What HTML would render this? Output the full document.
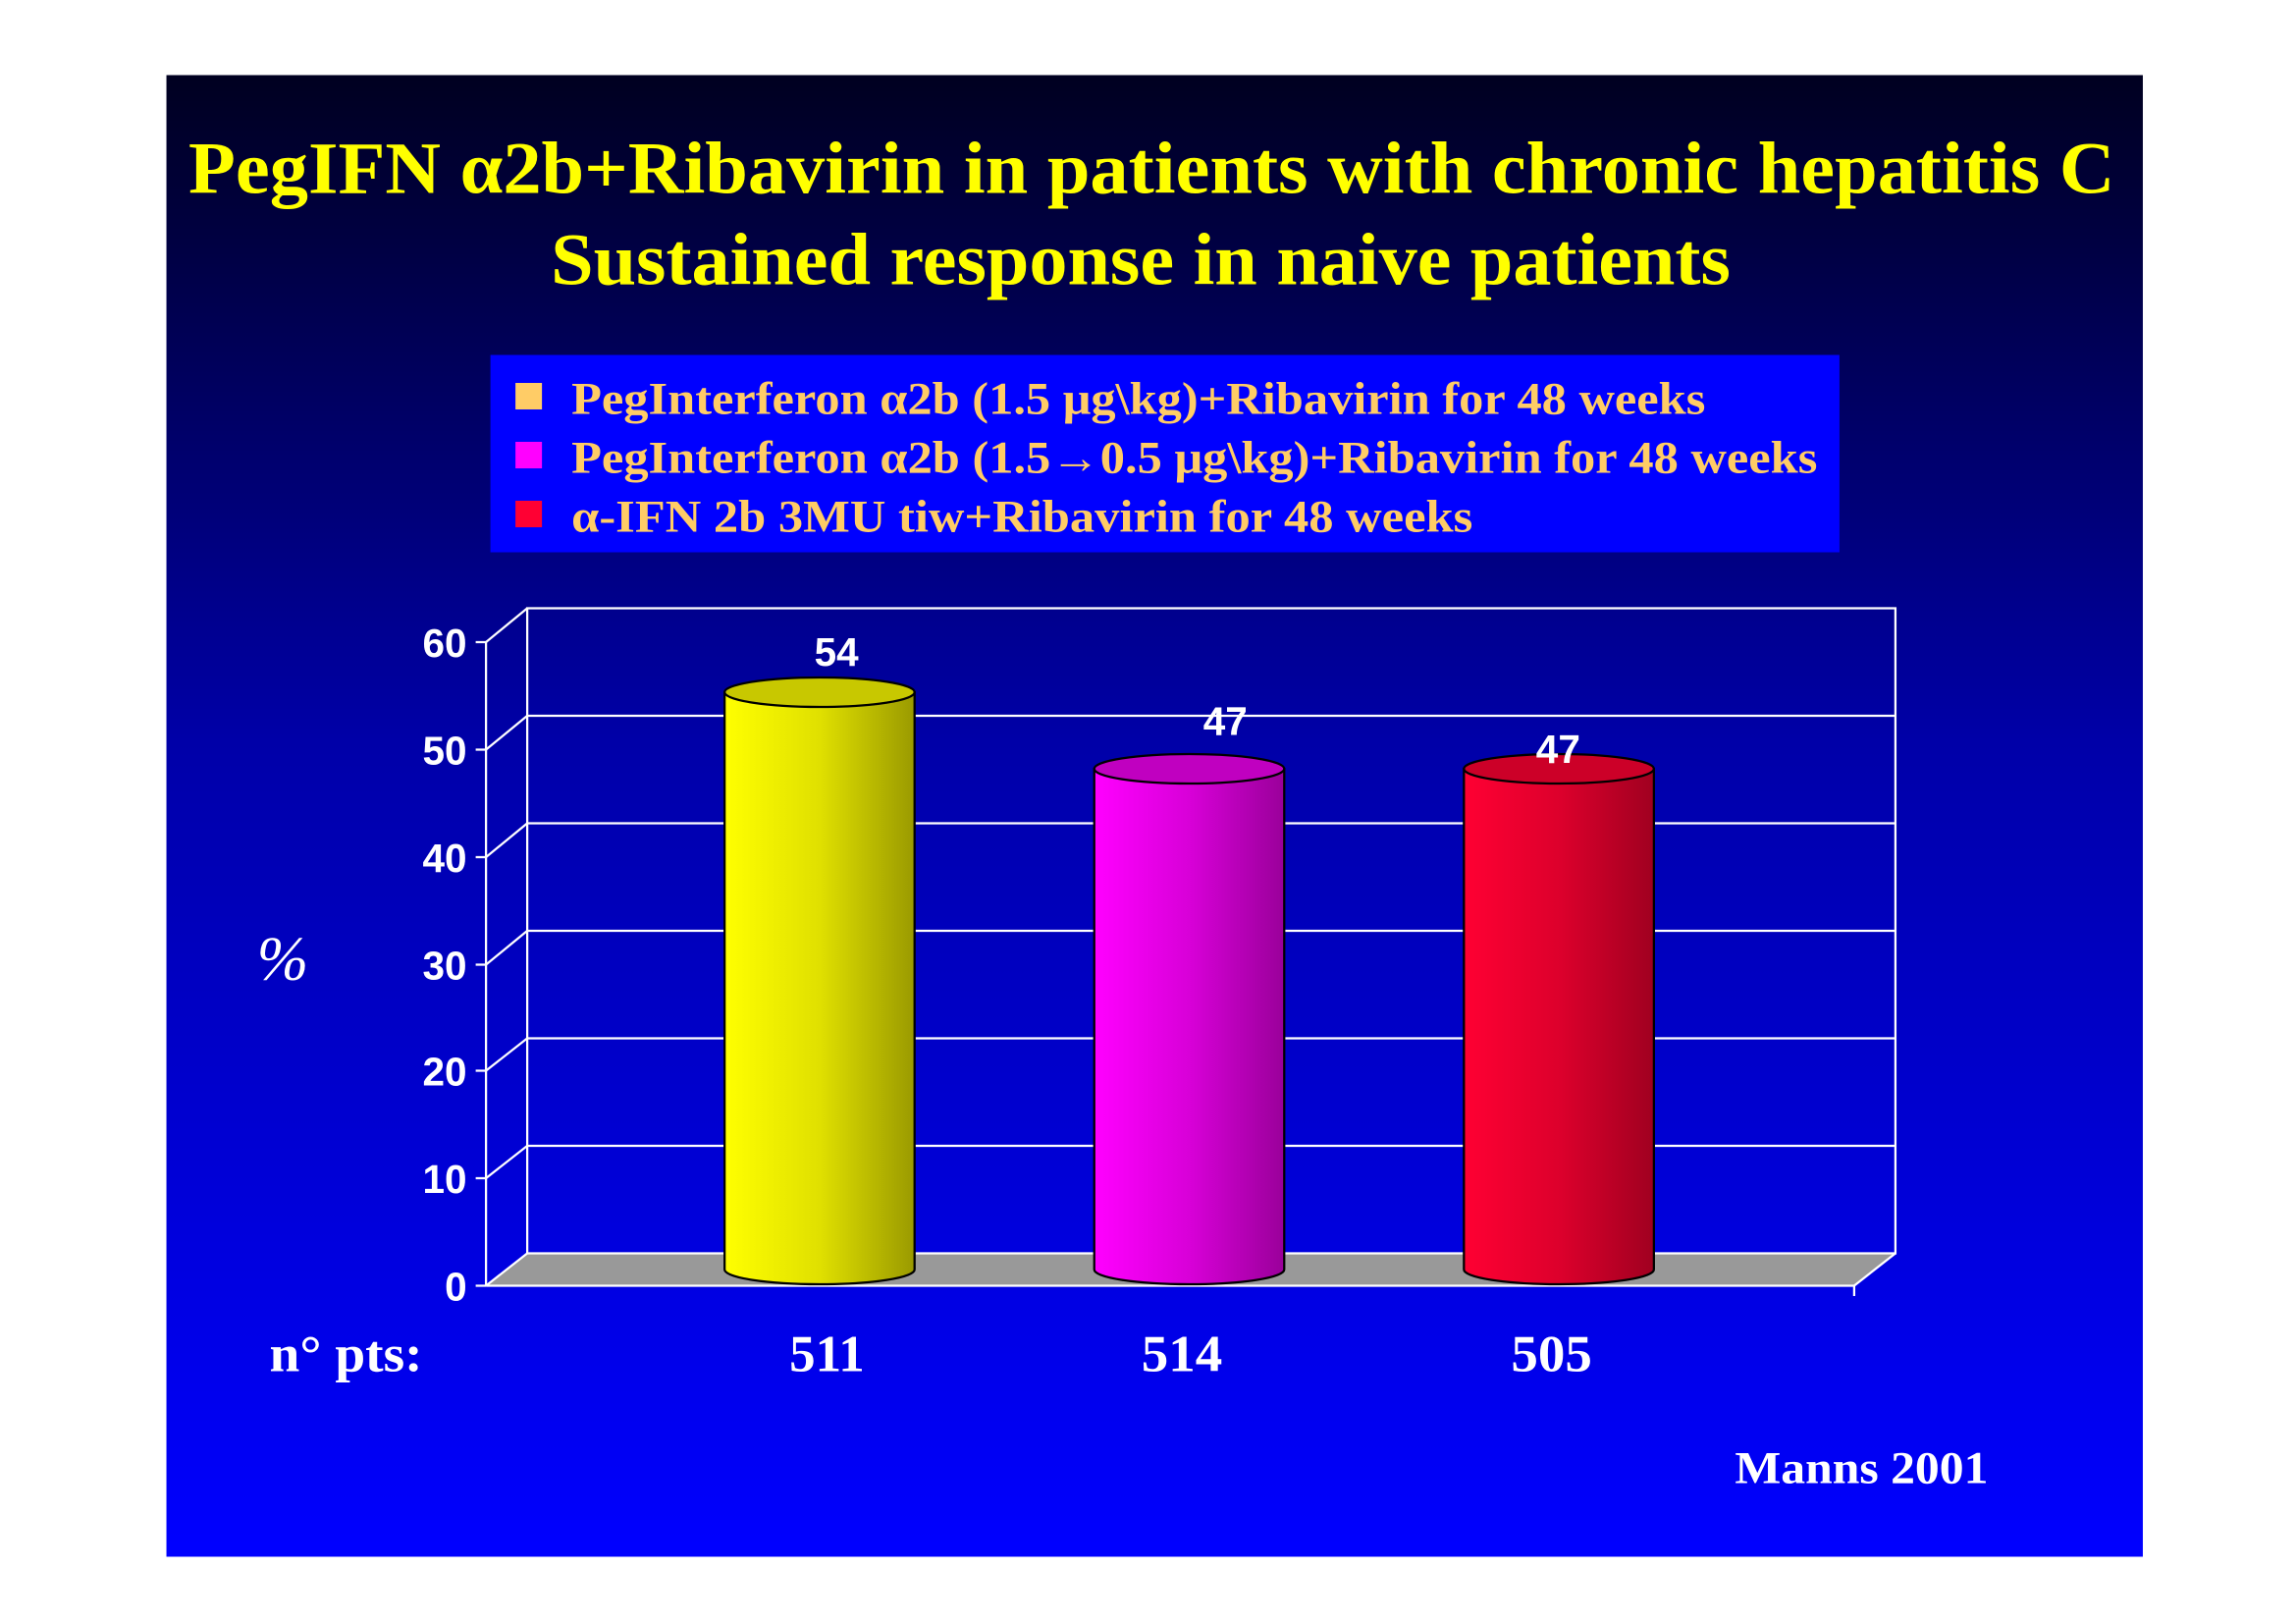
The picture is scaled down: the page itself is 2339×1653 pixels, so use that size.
<!DOCTYPE html>
<html><head><style>html,body{margin:0;padding:0;background:#fff}svg{display:block}</style></head>
<body>
<svg width="2339" height="1653" viewBox="0 0 1559 1102" preserveAspectRatio="none" xmlns="http://www.w3.org/2000/svg">
<defs>
<linearGradient id="bg" x1="0" y1="0" x2="0" y2="1">
<stop offset="0" stop-color="#000020"/><stop offset="0.45" stop-color="#0000a8"/><stop offset="1" stop-color="#0000ff"/>
</linearGradient>
<linearGradient id="gy" x1="0" x2="1"><stop offset="0" stop-color="#ffff00"/><stop offset="0.5" stop-color="#e0e000"/><stop offset="1" stop-color="#9a9a00"/></linearGradient>
<linearGradient id="gm" x1="0" x2="1"><stop offset="0" stop-color="#ff00ff"/><stop offset="0.5" stop-color="#d800d8"/><stop offset="1" stop-color="#9a009a"/></linearGradient>
<linearGradient id="gr" x1="0" x2="1"><stop offset="0" stop-color="#ff0033"/><stop offset="0.5" stop-color="#dd002c"/><stop offset="1" stop-color="#a00020"/></linearGradient>
</defs>
<rect width="1559" height="1102" fill="#fff"/>
<rect x="113" y="51" width="1342" height="1006" fill="url(#bg)"/>
<g font-family="Liberation Serif, serif" font-weight="bold" fill="#ffff00" font-size="50" lengthAdjust="spacingAndGlyphs">
<text x="128" y="131" textLength="1308" lengthAdjust="spacingAndGlyphs">PegIFN α2b+Ribavirin in patients with chronic hepatitis C</text>
<text x="374" y="193" textLength="801" lengthAdjust="spacingAndGlyphs">Sustained response in naive patients</text>
</g>
<rect x="333" y="241" width="916" height="134" fill="#0000ff"/>
<rect x="350" y="260" width="18" height="18" fill="#ffcc66"/>
<rect x="350" y="300" width="18" height="18" fill="#ff00ff"/>
<rect x="350" y="340" width="18" height="18" fill="#ff0033"/>
<g font-family="Liberation Serif, serif" font-weight="bold" fill="#ffcc66" font-size="31">
<text x="388" y="281" textLength="770" lengthAdjust="spacingAndGlyphs">PegInterferon α2b (1.5 μg\kg)+Ribavirin for 48 weeks</text>
<text x="388" y="321" textLength="846" lengthAdjust="spacingAndGlyphs">PegInterferon α2b (1.5→0.5 μg\kg)+Ribavirin for 48 weeks</text>
<text x="388" y="361" textLength="612" lengthAdjust="spacingAndGlyphs">α-IFN 2b 3MU tiw+Ribavirin for 48 weeks</text>
</g>
<polygon points="358,851 1287,851 1259,873 330,873" fill="#999"/>
<g stroke="#fff" stroke-width="1.5" fill="none">
<rect x="358" y="413" width="929" height="438"/>
<line x1="358" y1="486" x2="1287" y2="486"/><line x1="358" y1="559" x2="1287" y2="559"/>
<line x1="358" y1="632" x2="1287" y2="632"/><line x1="358" y1="705" x2="1287" y2="705"/>
<line x1="358" y1="778" x2="1287" y2="778"/>
<line x1="330" y1="436" x2="330" y2="873"/>
<line x1="330" y1="873" x2="1259" y2="873"/><line x1="1259" y1="873" x2="1287" y2="851"/>
<line x1="1259" y1="873" x2="1259" y2="880"/>
<line x1="330" y1="436" x2="358" y2="413"/><line x1="330" y1="509" x2="358" y2="486"/>
<line x1="330" y1="582" x2="358" y2="559"/><line x1="330" y1="655" x2="358" y2="632"/>
<line x1="330" y1="727" x2="358" y2="705"/><line x1="330" y1="800" x2="358" y2="778"/>
<line x1="330" y1="873" x2="358" y2="851"/>
<line x1="323" y1="436" x2="330" y2="436"/><line x1="323" y1="509" x2="330" y2="509"/>
<line x1="323" y1="582" x2="330" y2="582"/><line x1="323" y1="655" x2="330" y2="655"/>
<line x1="323" y1="727" x2="330" y2="727"/><line x1="323" y1="800" x2="330" y2="800"/>
<line x1="323" y1="873" x2="330" y2="873"/>
</g>
<g font-family="Liberation Sans, sans-serif" font-weight="bold" fill="#fff" font-size="27" text-anchor="end">
<text x="317" y="446">60</text><text x="317" y="519">50</text><text x="317" y="592">40</text>
<text x="317" y="665">30</text><text x="317" y="737">20</text><text x="317" y="810">10</text><text x="317" y="883">0</text>
</g>
<g stroke="#000" stroke-width="1.5">
<path d="M492,470 L492,862 A64.5,10 0 0 0 621,862 L621,470 Z" fill="url(#gy)"/>
<ellipse cx="556.5" cy="470" rx="64.5" ry="10" fill="#c8c800"/>
<path d="M743,522 L743,862 A64.5,10 0 0 0 872,862 L872,522 Z" fill="url(#gm)"/>
<ellipse cx="807.5" cy="522" rx="64.5" ry="10" fill="#c000c0"/>
<path d="M994,522 L994,862 A64.5,10 0 0 0 1123,862 L1123,522 Z" fill="url(#gr)"/>
<ellipse cx="1058.5" cy="522" rx="64.5" ry="10" fill="#cc0028"/>
</g>
<g font-family="Liberation Sans, sans-serif" font-weight="bold" fill="#fff" font-size="27" text-anchor="middle">
<text x="568" y="452">54</text><text x="832" y="499">47</text><text x="1058" y="518">47</text>
</g>
<text x="192" y="665" font-family="Liberation Serif, serif" font-style="italic" fill="#fff" font-size="42" text-anchor="middle">%</text>
<g font-family="Liberation Serif, serif" font-weight="bold" fill="#fff" font-size="35">
<text x="183" y="931" textLength="104" lengthAdjust="spacingAndGlyphs">n° pts:</text>
<text x="536" y="931" textLength="51" lengthAdjust="spacingAndGlyphs">511</text>
<text x="775" y="931" textLength="55" lengthAdjust="spacingAndGlyphs">514</text>
<text x="1026" y="931" textLength="55" lengthAdjust="spacingAndGlyphs">505</text>
<text x="1178" y="1007" font-size="31" textLength="172" lengthAdjust="spacingAndGlyphs">Manns 2001</text>
</g>
</svg>
</body></html>
